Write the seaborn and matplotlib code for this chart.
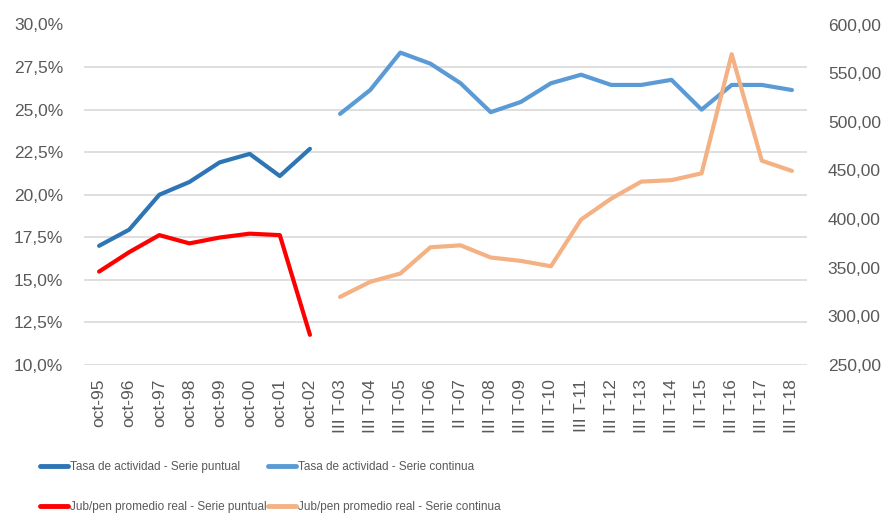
import numpy as np
import pandas as pd
import seaborn as sns
from matplotlib import pyplot as plt
from matplotlib.ticker import FuncFormatter, MultipleLocator
from matplotlib.lines import Line2D

# Etiquetas del eje x
labels = ["oct-95", "oct-96", "oct-97", "oct-98", "oct-99", "oct-00", "oct-01", "oct-02",
          "III T-03", "III T-04", "III T-05", "III T-06", "II T-07", "III T-08", "III T-09",
          "III T-10", "III T-11", "III T-12", "III T-13", "III T-14", "II T-15", "III T-16",
          "III T-17", "III T-18"]

# Tasa de actividad (%), eje izquierdo
tasa_puntual = [17.0, 17.95, 20.0, 20.75, 21.9, 22.4, 21.1, 22.7]
tasa_continua = [24.75, 26.15, 28.35, 27.7, 26.55, 24.85, 25.45, 26.55, 27.05, 26.45,
                 26.45, 26.75, 25.0, 26.45, 26.45, 26.15]

# Jub/pen promedio real, eje derecho
jub_puntual = [346.0, 366.0, 383.5, 375.0, 381.0, 385.0, 383.5, 281.0]
jub_continua = [320.0, 335.5, 344.0, 371.0, 373.0, 360.5, 357.0, 351.5, 399.5, 421.0,
                438.5, 440.0, 447.0, 569.5, 460.0, 449.5]

c_tasa_p = "#2E75B6"
c_tasa_c = "#5B9BD5"
c_jub_p = "#FF0000"
c_jub_c = "#F4B183"
grid_c = "#D9D9D9"
txt_c = "#595959"

sns.set_style("white")
plt.rcParams["font.family"] = ["Liberation Sans", "DejaVu Sans"]

pos = np.arange(len(labels))
n_p = len(tasa_puntual)

fig = plt.figure(figsize=(8.87, 5.18), dpi=100)
ax = fig.add_axes([84 / 887, 1 - 365 / 518, (807 - 84) / 887, (365 - 24.5) / 518])
ax2 = ax.twinx()

kw = dict(linewidth=3, solid_capstyle="round", solid_joinstyle="round")
sns.lineplot(x=pos[:n_p], y=tasa_puntual, ax=ax, color=c_tasa_p, **kw)
sns.lineplot(x=pos[n_p:], y=tasa_continua, ax=ax, color=c_tasa_c, **kw)
sns.lineplot(x=pos[:n_p], y=jub_puntual, ax=ax2, color=c_jub_p, **kw)
sns.lineplot(x=pos[n_p:], y=jub_continua, ax=ax2, color=c_jub_c, **kw)

ax.set_xlim(-0.5, len(labels) - 0.5)
ax.set_ylim(10, 30)
ax2.set_ylim(250, 600)
ax.yaxis.set_major_locator(MultipleLocator(2.5))
ax2.yaxis.set_major_locator(MultipleLocator(50))
ax.yaxis.set_major_formatter(FuncFormatter(lambda v, p: f"{v:.1f}%".replace(".", ",")))
ax2.yaxis.set_major_formatter(FuncFormatter(lambda v, p: f"{v:.2f}".replace(".", ",")))

ax.set_xticks(pos)
ax.set_xticklabels(labels, rotation=90, fontsize=12.5, color=txt_c)
ax.tick_params(axis="x", length=0, pad=10)
ax.tick_params(axis="y", length=0, pad=15, labelsize=12.5, labelcolor=txt_c)
ax2.tick_params(axis="y", length=0, pad=15, labelsize=12.5, labelcolor=txt_c)

ax.grid(axis="y", color=grid_c, linewidth=1.2)
ax.set_axisbelow(True)
for a in (ax, ax2):
    for s in ["top", "left", "right", "bottom"]:
        a.spines[s].set_visible(False)
    a.set_xlabel("")
    a.set_ylabel("")

# leyenda en dos columnas, cada una como leyenda aparte
col1 = [Line2D([], [], color=c_tasa_p, lw=3.5), Line2D([], [], color=c_jub_p, lw=3.5)]
col2 = [Line2D([], [], color=c_tasa_c, lw=3.5), Line2D([], [], color=c_jub_c, lw=3.5)]
lg_kw = dict(loc="upper left", frameon=False, handlelength=2.4, handletextpad=0.1,
             labelspacing=2.4, prop=dict(size=8.5), labelcolor=txt_c,
             borderaxespad=0, borderpad=0)
fig.legend(col1, ["Tasa de actividad - Serie puntual", "Jub/pen promedio real - Serie puntual"],
           bbox_to_anchor=(40 / 887, 1 - 461 / 518), **lg_kw)
fig.legend(col2, ["Tasa de actividad - Serie continua", "Jub/pen promedio real - Serie continua"],
           bbox_to_anchor=(268 / 887, 1 - 461 / 518), **lg_kw)

fig.savefig("out.png", dpi=100)
